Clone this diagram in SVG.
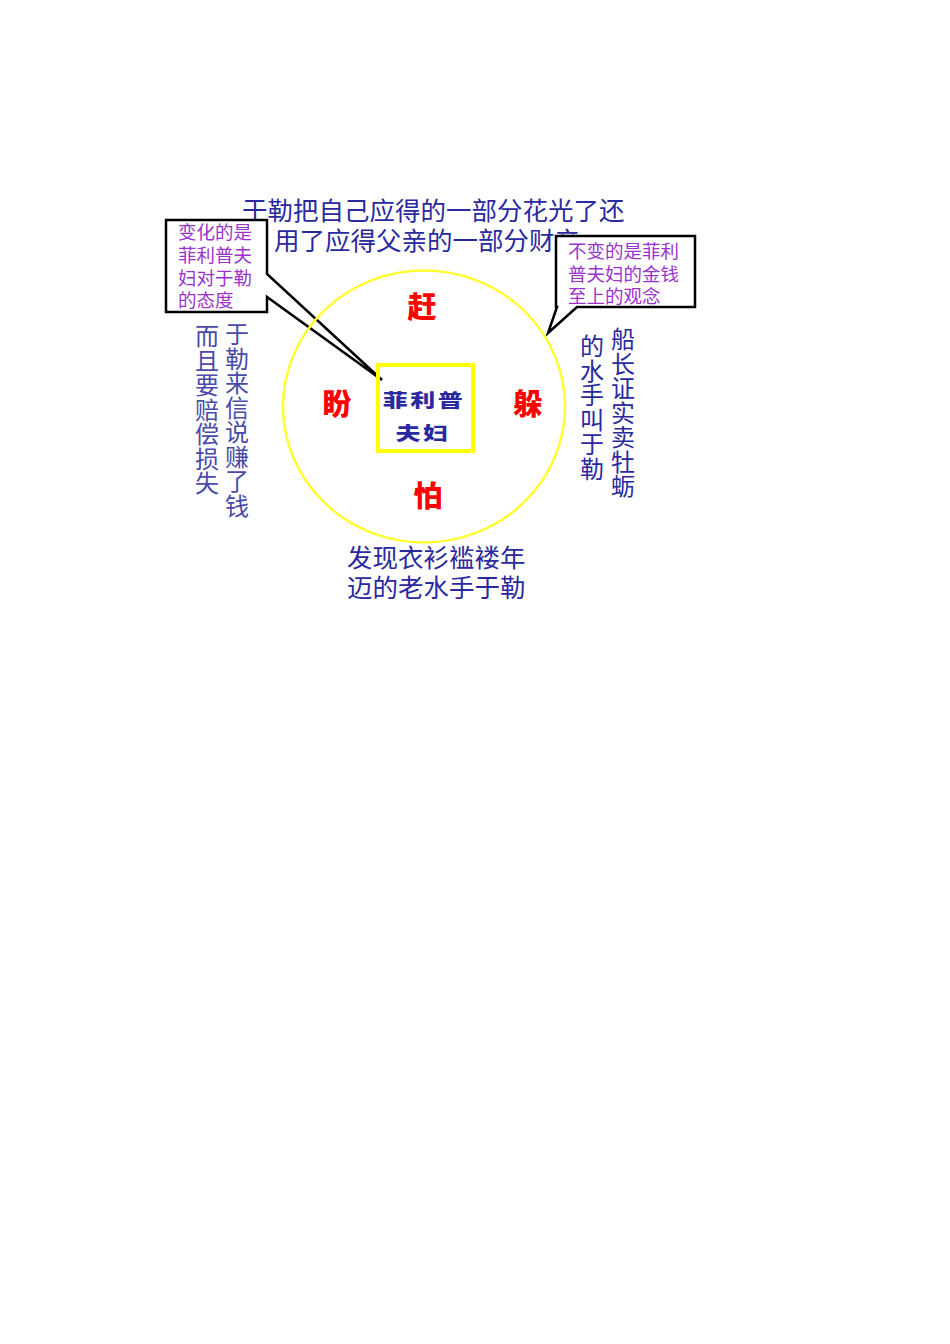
<svg xmlns="http://www.w3.org/2000/svg" width="950" height="1344" viewBox="0 0 950 1344">
<style>
.blue{font-family:"Noto Sans CJK SC","Liberation Sans",sans-serif;font-size:25.5px;fill:#2a2a9e}
.col{font-family:"Noto Sans CJK SC","Liberation Sans",sans-serif;font-size:24px;writing-mode:vertical-rl;letter-spacing:0.5px}
.purple{font-family:"Noto Sans CJK SC","Liberation Sans",sans-serif;font-size:18.5px;fill:#9933cc}
.red{font-family:"Noto Sans CJK SC","Liberation Sans",sans-serif;font-size:29px;font-weight:900;fill:#ff0000;text-anchor:middle}
.center{font-family:"Noto Sans CJK SC","Liberation Sans",sans-serif;font-size:20px;font-weight:900;fill:#2a2aa0;letter-spacing:2px;text-anchor:middle}
.callout{fill:#ffffff;stroke:#000000;stroke-width:2.5;stroke-linejoin:miter}
</style>
<rect width="950" height="1344" fill="#ffffff"/>
<g id="top-text">
<text class="blue" x="242" y="220">于勒把自己应得的一部分花光了还</text>
<text class="blue" x="274" y="250">用了应得父亲的一部分财产</text>
</g>
<g id="left-columns">
<text class="col" x="237" y="322" fill="#4a4aaa">于勒来信说赚了钱</text>
<text class="col" x="207" y="324" fill="#4a4aaa">而且要赔偿损失</text>
</g>
<g id="right-columns">
<text class="col" x="623" y="327" fill="#2a2a9e">船长证实卖牡蛎</text>
<text class="col" x="592" y="334" fill="#2a2a9e">的水手叫于勒</text>
</g>
<g id="bottom-text">
<text class="blue" x="347" y="567">发现衣衫褴褛年</text>
<text class="blue" x="347" y="597">迈的老水手于勒</text>
</g>
<g id="connectors">
<path id="callout-left" class="callout" d="M166,220 H267 V274 L382,380 L267,297 V312 H166 Z"/>
<path id="callout-right" class="callout" d="M556,236 H695 V307 H577 L548,333 L557,307 H556 Z"/>
</g>
<g id="callout-left-text">
<text class="purple" x="178" y="239">变化的是</text>
<text class="purple" x="178" y="262">菲利普夫</text>
<text class="purple" x="178" y="285">妇对于勒</text>
<text class="purple" x="178" y="307">的态度</text>
</g>
<g id="callout-right-text">
<text class="purple" x="568" y="258">不变的是菲利</text>
<text class="purple" x="568" y="281">普夫妇的金钱</text>
<text class="purple" x="568" y="303">至上的观念</text>
</g>
<g id="circle">
<ellipse cx="424" cy="406.5" rx="141" ry="136" fill="none" stroke="#ffff33" stroke-width="2.5"/>
</g>
<g id="red-words">
<text class="red" x="422" y="318">赶</text>
<text class="red" x="337" y="415">盼</text>
<text class="red" x="528" y="415">躲</text>
<text class="red" x="428" y="507">怕</text>
</g>
<g id="center-node">
<rect x="378" y="365" width="95" height="86" fill="none" stroke="#ffff00" stroke-width="4"/>
<text class="center" transform="translate(424,407) scale(1.25,0.9)" x="0" y="0">菲利普</text>
<text class="center" transform="translate(423,440) scale(1.25,0.9)" x="0" y="0">夫妇</text>
</g>
</svg>
